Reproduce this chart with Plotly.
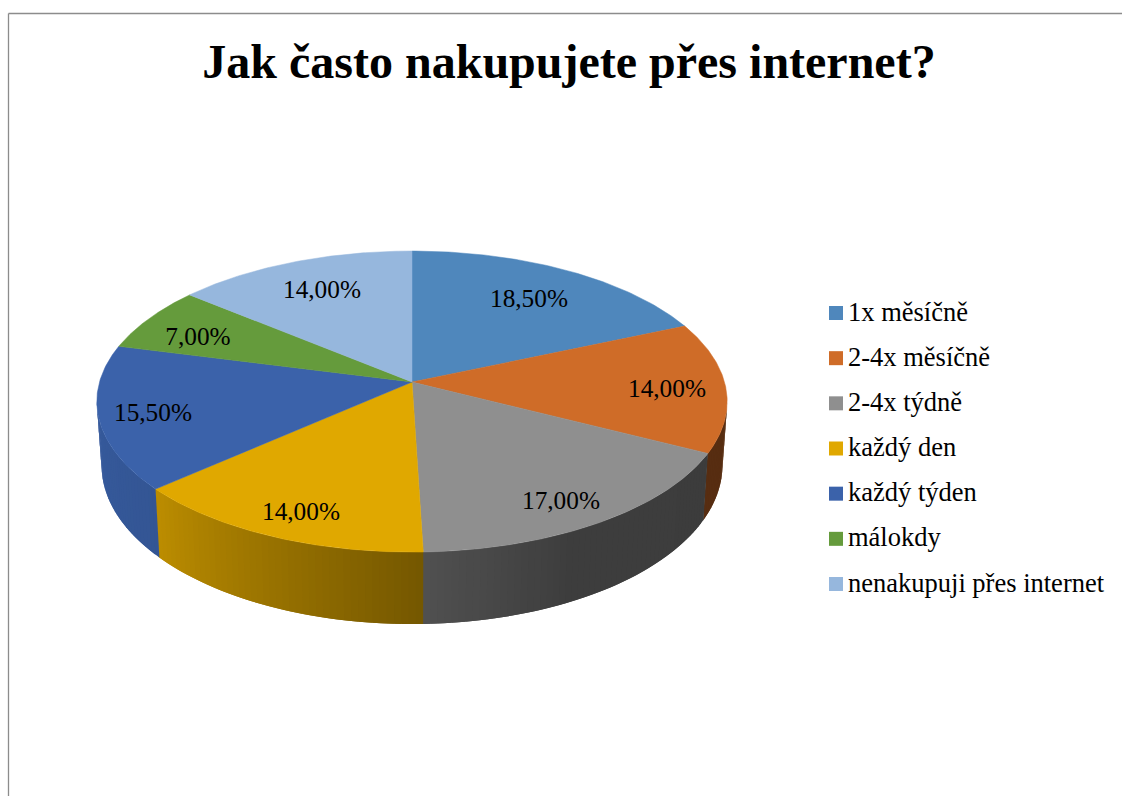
import numpy as np
import plotly.graph_objects as go

# Survey answers, in percent
categories = ["1x měsíčně", "2-4x měsíčně", "2-4x týdně", "každý den",
              "každý týden", "málokdy", "nenakupuji přes internet"]
shares = [18.5, 14.0, 17.0, 14.0, 15.5, 7.0, 14.0]
title_text = "Jak často nakupujete přes internet?"

# Styling per slice
top_colors = ["#4f87bc", "#cf6c28", "#8f8f8f", "#e0a800", "#3b62aa", "#659b3c", "#96b7dd"]
side_shade = {
    1: ([0.0, 1.0], [0.42, 0.42]),
    2: ([0.0, 0.6, 1.0], [0.42, 0.43, 0.56]),
    3: ([0.0, 1.0], [0.52, 0.84]),
    4: ([0.0, 1.0], [0.87, 0.92]),
}
label_x = [529, 667, 561, 301, 153, 198, 322]
label_y = [301, 391, 503, 514, 415, 339, 292]

# Projection of the tilted disc onto the page, in pixels
CX, CY = 412.0, 382.0
RX, RY = 312.5, 148.0
PERSP = 0.13
DEPTH = 62.6
RIM_SHRINK = 0.985
W, H = 1122, 796


def top_rim(theta):
    u, v = np.sin(theta), np.cos(theta)
    d = 1 + PERSP * v
    return CX + RX * u / d, CY - RY * v / d


def bottom_rim(theta):
    x, y = top_rim(theta)
    d = 1 + PERSP * np.cos(theta)
    return CX + (x - CX) * RIM_SHRINK, y + DEPTH / d


def shaded(hex_color, f):
    r, g, b = (int(hex_color[i:i + 2], 16) for i in (1, 3, 5))
    return f"rgb({r * f:.0f},{g * f:.0f},{b * f:.0f})"


def polygon(xs, ys, color, width=0.0):
    return go.Scatter(x=xs, y=ys, mode="lines", fill="toself", fillcolor=color,
                      line=dict(color=color, width=width), hoverinfo="skip",
                      showlegend=False)


fig = go.Figure()

total = sum(shares)
edges = np.cumsum([0.0] + shares) / total * 2 * np.pi
front_start = np.arccos(-PERSP)
front_end = 2 * np.pi - front_start

# Outer wall: each strip runs under the next one so no seams show through
for i, (start, end) in enumerate(zip(edges[:-1], edges[1:])):
    a, b = max(start, front_start), min(end, front_end)
    if a >= b:
        continue
    stops, factors = side_shade[i]
    n = max(3, int((b - a) / 0.02))
    steps = np.linspace(a, b, n + 1)
    for j in range(n):
        far = steps[j + 2] if j + 2 <= n else min(b + 0.004, front_end)
        t = np.linspace(steps[j], far, 6)
        tx, ty = top_rim(t)
        bx, by = bottom_rim(t)
        xs = np.concatenate([tx, bx[::-1], tx[:1]])
        ys = np.concatenate([ty, by[::-1], ty[:1]])
        f = float(np.interp((j + 0.5) / n, stops, factors))
        fig.add_trace(polygon(xs, ys, shaded(top_colors[i], f)))

# Top face
for i, (start, end) in enumerate(zip(edges[:-1], edges[1:])):
    t = np.linspace(start, end, 90)
    rx, ry = top_rim(t)
    xs = np.concatenate([[CX], rx, [CX]])
    ys = np.concatenate([[CY], ry, [CY]])
    fig.add_trace(polygon(xs, ys, top_colors[i], width=0.5))

# Value labels
fig.add_trace(go.Scatter(
    x=label_x, y=label_y, mode="text",
    text=[f"{v:.2f}".replace(".", ",") + "%" for v in shares],
    textposition="middle center",
    textfont=dict(family="Liberation Serif", size=25.3, color="#000000"),
    hoverinfo="skip", showlegend=False))

# Key on the right
legend_y = np.linspace(313, 584, len(categories))
fig.add_trace(go.Scatter(
    x=[836] * len(categories), y=legend_y, mode="markers",
    marker=dict(symbol="square", size=14, color=top_colors, line=dict(width=0)),
    hoverinfo="skip", showlegend=False))
fig.add_trace(go.Scatter(
    x=[848] * len(categories), y=legend_y + 1, mode="text", text=categories,
    textposition="middle right",
    textfont=dict(family="Liberation Serif", size=26.5, color="#000000"),
    hoverinfo="skip", showlegend=False))

fig.update_layout(
    width=W, height=H, margin=dict(l=0, r=0, t=0, b=0),
    paper_bgcolor="#ffffff", plot_bgcolor="#ffffff", showlegend=False,
    title=dict(text=title_text, x=569 / W, xanchor="center", xref="paper",
               y=1 - 61 / H, yanchor="middle", yref="container",
               font=dict(family="Liberation Serif", size=48, color="#000000",
                         weight="bold")),
    xaxis=dict(range=[0, W], visible=False, fixedrange=True),
    yaxis=dict(range=[H, 0], visible=False, fixedrange=True),
    shapes=[
        dict(type="line", xref="x", yref="y", x0=8.5, x1=8.5, y0=13.5, y1=H,
             line=dict(color="#8c8c8c", width=1.3)),
        dict(type="line", xref="x", yref="y", x0=8.5, x1=W, y0=13.5, y1=13.5,
             line=dict(color="#8c8c8c", width=1.3)),
    ],
)

fig.write_html("out.html", config=dict(displayModeBar=False))
